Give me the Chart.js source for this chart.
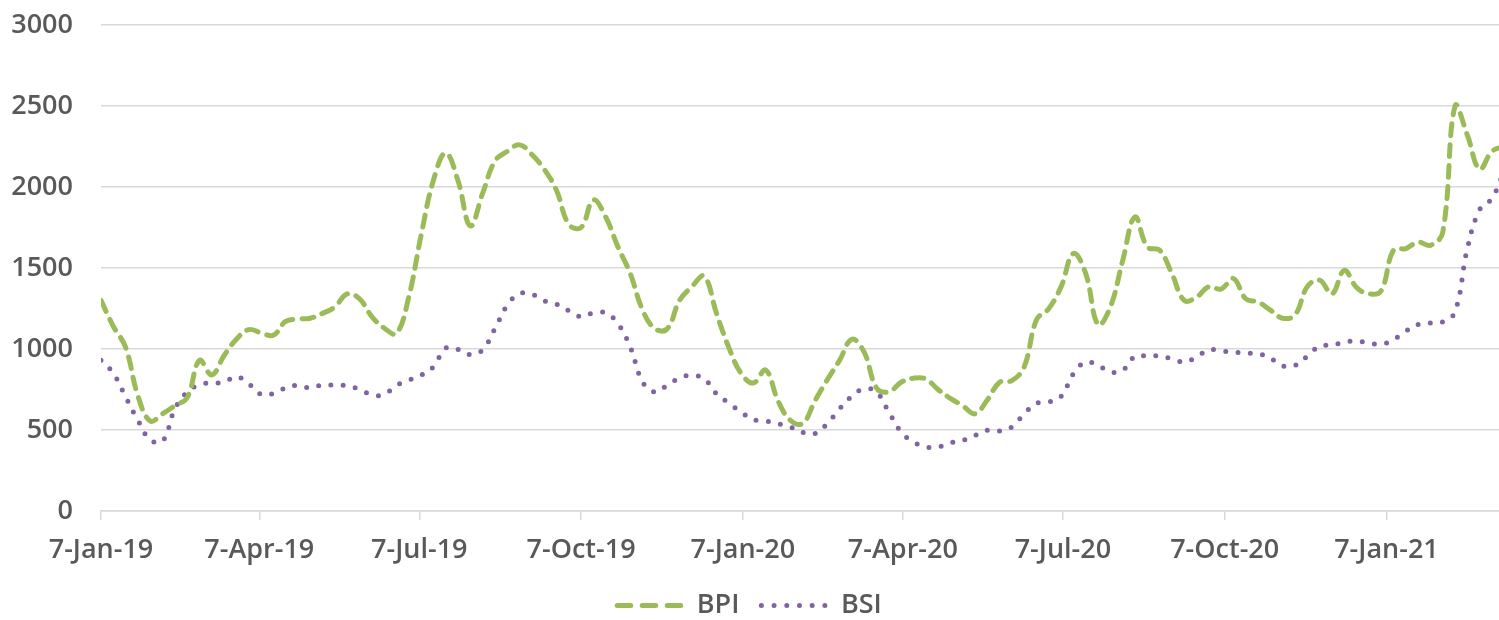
<!DOCTYPE html>
<html>
<head>
<meta charset="utf-8">
<script src="https://cdn.jsdelivr.net/npm/chart.js@4/dist/chart.umd.min.js"></script>
<style>
  html, body { margin: 0; padding: 0; background: #fff; }
  #wrap { width: 1499px; height: 620px; }
</style>
</head>
<body>
<div id="wrap"><canvas id="chart"></canvas></div>
<script>
// weekly series starting on the first date
const startDate = '2019-01-07';

const tickDates = ['2019-01-07', '2019-04-07', '2019-07-07', '2019-10-07', '2020-01-07',
  '2020-04-07', '2020-07-07', '2020-10-07', '2021-01-07'];
const tickLabels = ['7-Jan-19', '7-Apr-19', '7-Jul-19', '7-Oct-19', '7-Jan-20',
  '7-Apr-20', '7-Jul-20', '7-Oct-20', '7-Jan-21'];

const bpi = [
  1300, 1140, 1010, 710, 555, 600, 650, 700, 930, 840,
  960, 1060, 1120, 1100, 1085, 1170, 1185, 1190, 1220, 1260,
  1340, 1310, 1200, 1130, 1095, 1320, 1700, 2040, 2210, 2040,
  1760, 1960, 2160, 2220, 2260, 2200, 2110, 1980, 1770, 1750,
  1920, 1815, 1630, 1465, 1240, 1125, 1125, 1300, 1385, 1450,
  1220, 1010, 850, 790, 870, 680, 560, 540, 680, 810,
  930, 1060, 980, 760, 735, 795, 820, 815, 750, 695,
  650, 600, 685, 795, 805, 890, 1180, 1250, 1385, 1590,
  1465, 1150, 1260, 1545, 1815, 1630, 1610, 1465, 1300, 1320,
  1385, 1370, 1435, 1310, 1290, 1240, 1190, 1210, 1385, 1425,
  1340, 1485, 1380, 1340, 1360, 1610, 1620, 1660, 1640, 1720,
  2500, 2320, 2110, 2220, 2250
];

const bsi = [
  930, 850, 705, 560, 440, 430, 630, 735, 780, 790,
  795, 830, 785, 720, 725, 760, 775, 760, 778, 776,
  774, 750, 718, 718, 776, 807, 838, 890, 1005, 998,
  965, 995, 1125, 1270, 1342, 1338, 1297, 1276, 1237, 1200,
  1223, 1223, 1156, 1012, 796, 735, 776, 821, 837, 817,
  724, 667, 611, 564, 556, 539, 519, 485, 478, 539,
  632, 708, 755, 735, 611, 488, 426, 395, 395, 420,
  436, 467, 498, 494, 519, 600, 665, 673, 708, 848,
  920, 899, 858, 868, 955, 957, 957, 940, 920, 951,
  996, 988, 981, 975, 971, 944, 895, 899, 955, 1018,
  1023, 1043, 1049, 1037, 1029, 1057, 1110, 1152, 1160, 1167,
  1230, 1620, 1860, 1930, 2100
];

const DAY = 86400000;
const t0 = Date.parse(startDate);
const tickDays = tickDates.map(d => Math.round((Date.parse(d) - t0) / DAY));
const toPoints = arr => arr.map((v, i) => ({ x: i * 7, y: v }));

const FONT = "'Open Sans', 'Noto Sans', sans-serif";
const TEXT = '#595959';
const GRID = '#d9d9d9';
const tickFont = { family: FONT, size: 27, weight: '600' };

new Chart(document.getElementById('chart'), {
  type: 'line',
  data: {
    datasets: [
      {
        label: 'BPI',
        data: toPoints(bpi),
        borderColor: '#9bbb59',
        backgroundColor: '#9bbb59',
        borderWidth: 5,
        borderDash: [12, 9],
        borderCapStyle: 'round',
        pointRadius: 0,
        tension: 0.4,
        fill: false
      },
      {
        label: 'BSI',
        data: toPoints(bsi),
        borderColor: '#8064a2',
        backgroundColor: '#8064a2',
        borderWidth: 5,
        borderDash: [0, 12.3],
        borderCapStyle: 'round',
        pointRadius: 0,
        tension: 0.4,
        fill: false
      }
    ]
  },
  options: {
    responsive: true,
    maintainAspectRatio: false,
    animation: false,
    layout: { padding: { top: 25, right: 0, left: 0, bottom: 0 } },
    plugins: {
      tooltip: { enabled: false },
      legend: {
        position: 'bottom',
        maxHeight: 50,
        labels: {
          font: tickFont,
          color: TEXT,
          usePointStyle: true,
          pointStyle: 'line',
          pointStyleWidth: 66,
          padding: 22,
          generateLabels(chart) {
            const items = Chart.defaults.plugins.legend.labels.generateLabels(chart);
            items.forEach(it => {
              if (it.text === 'BPI') it.lineDash = [13.5, 11.5];
              if (it.text === 'BSI') it.lineDash = [0, 12.7];
              it.lineCap = 'round';
            });
            return items;
          }
        }
      }
    },
    scales: {
      x: {
        type: 'linear',
        min: 0,
        max: 795,
        afterBuildTicks: scale => { scale.ticks = tickDays.map(v => ({ value: v })); },
        afterFit: scale => { scale.height = 59; },
        ticks: {
          autoSkip: false,
          maxRotation: 0,
          padding: 14,
          color: TEXT,
          font: tickFont,
          callback: v => tickLabels[tickDays.indexOf(v)]
        },
        grid: { drawOnChartArea: false, drawTicks: true, tickLength: 9, color: GRID, lineWidth: 1.5 },
        border: { color: GRID, width: 1.5 }
      },
      y: {
        min: 0,
        max: 3000,
        afterFit: scale => { scale.width = 101; },
        ticks: {
          stepSize: 500,
          padding: 0,
          color: TEXT,
          font: tickFont,
          callback: v => String(v)
        },
        // invisible tick marks push the labels away from the plot without adding top padding
        grid: { color: GRID, lineWidth: 1.5, drawTicks: true, tickLength: 28, tickColor: 'rgba(0,0,0,0)' },
        border: { display: false }
      }
    }
  }
});
</script>
</body>
</html>
